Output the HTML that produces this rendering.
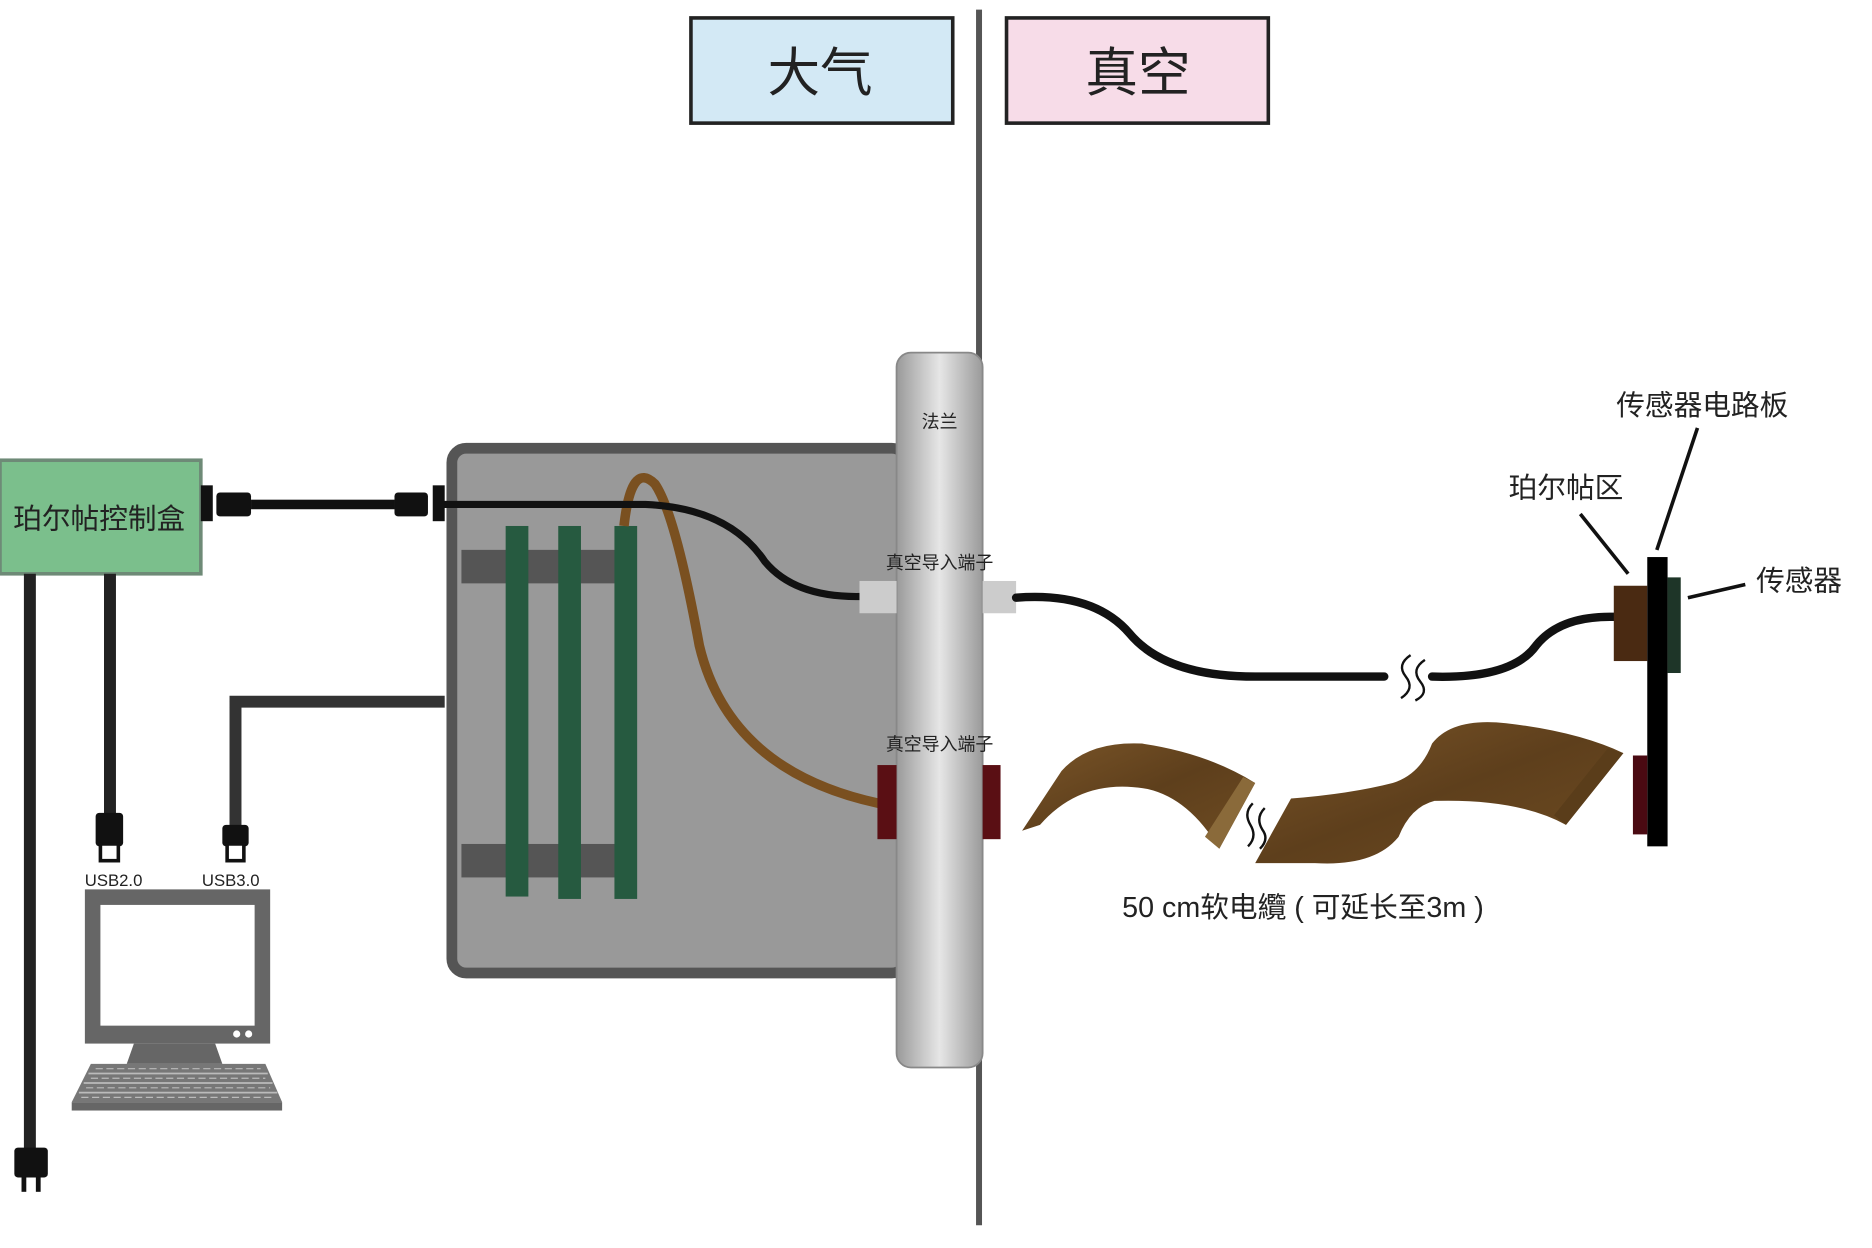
<!DOCTYPE html>
<html><head><meta charset="utf-8"><style>
html,body{margin:0;padding:0;background:#fff}
svg{display:block}
text{font-family:"Liberation Sans","Noto Sans CJK SC",sans-serif}
</style></head><body>
<svg width="1872" height="1248" viewBox="0 0 1566 1044" preserveAspectRatio="none" xmlns="http://www.w3.org/2000/svg">
<defs>
<linearGradient id="fl" x1="0" x2="1" y1="0" y2="0">
<stop offset="0" stop-color="#9a9a9a"/><stop offset="0.5" stop-color="#e6e6e6"/><stop offset="1" stop-color="#9a9a9a"/></linearGradient>
<linearGradient id="rb" x1="0" x2="1" y1="0" y2="1">
<stop offset="0" stop-color="#7a5528"/><stop offset="0.5" stop-color="#5e3f1c"/><stop offset="1" stop-color="#6e4c22"/></linearGradient>
</defs>
<rect width="1566" height="1044" fill="#fff"/>
<line x1="819" y1="8" x2="819" y2="1025" stroke="#555" stroke-width="5"/>
<rect x="578" y="15" width="219" height="88" fill="#d3e9f5" stroke="#222" stroke-width="3"/>
<text x="686" y="76" font-size="44" text-anchor="middle" fill="#222">大气</text>
<rect x="842" y="15" width="219" height="88" fill="#f7dce8" stroke="#222" stroke-width="3"/>
<text x="952" y="76" font-size="44" text-anchor="middle" fill="#222">真空</text>
<rect x="378" y="375" width="380" height="439" rx="12" fill="#999" stroke="#555" stroke-width="9"/>
<rect x="386" y="460" width="144" height="28" fill="#555"/>
<rect x="386" y="706" width="144" height="28" fill="#555"/>
<rect x="423" y="440" width="19" height="310" fill="#265a40"/>
<rect x="467" y="440" width="19" height="312" fill="#265a40"/>
<rect x="514" y="440" width="19" height="312" fill="#265a40"/>
<path d="M522,440 Q528,385 548,405 Q565,430 585,540 Q610,645 735,672" fill="none" stroke="#7a5020" stroke-width="8"/>
<path d="M370,422 L540,422 Q610,425 640,470 Q665,500 720,499" fill="none" stroke="#111" stroke-width="6"/>
<rect x="750" y="295" width="72" height="598" rx="12" fill="url(#fl)" stroke="#888" stroke-width="1.5"/>
<text x="786" y="358" font-size="15" text-anchor="middle" fill="#222">法兰</text>
<rect x="719" y="486" width="31" height="27" fill="#ccc"/>
<rect x="822" y="486" width="28" height="27" fill="#ccc"/>
<text x="786" y="476" font-size="15" text-anchor="middle" fill="#222">真空导入端子</text>
<text x="786" y="628" font-size="15" text-anchor="middle" fill="#222">真空导入端子</text>
<rect x="734" y="640" width="16" height="62" fill="#5a0f14"/>
<rect x="822" y="640" width="15" height="62" fill="#5a0f14"/>
<path d="M850,500 Q915,495 945,530 Q975,566 1050,566 L1158,566" fill="none" stroke="#111" stroke-width="7" stroke-linecap="round"/>
<path d="M1198,566 Q1265,568 1285,540 Q1305,515 1350,516" fill="none" stroke="#111" stroke-width="7" stroke-linecap="round"/>
<path d="M1180,548 Q1168,556 1176,566 Q1184,576 1172,584 M1192,552 Q1180,560 1188,570 Q1196,580 1184,586" fill="none" stroke="#111" stroke-width="2"/>
<path d="M855,695 L888,645 Q910,620 955,622 Q1010,630 1050,655 L1020,710 Q995,668 960,660 Q905,650 870,690 Z" fill="url(#rb)"/>
<path d="M1050,655 L1020,710 L1008,700 L1040,650 Z" fill="#8a6a3a"/>
<path d="M1050,722 L1080,668 Q1130,664 1165,655 Q1188,648 1198,622 Q1215,600 1260,605 Q1320,612 1358,630 L1310,690 Q1270,668 1200,670 Q1180,675 1170,700 Q1150,725 1100,722 Z" fill="url(#rb)"/>
<path d="M1358,630 L1310,690 L1300,682 L1345,626 Z" fill="#5a3d1a"/>
<path d="M1048,672 Q1040,680 1046,690 Q1052,700 1044,708 M1058,676 Q1050,684 1056,694 Q1062,702 1054,710" fill="none" stroke="#111" stroke-width="2"/>
<text x="1090" y="767" font-size="24" text-anchor="middle" fill="#222">50 cm软电纜 ( 可延长至3m )</text>
<rect x="1350" y="490" width="28" height="63" fill="#4a2a12"/>
<rect x="1378" y="466" width="17" height="242" fill="#000"/>
<rect x="1395" y="483" width="11" height="80" fill="#1e3528"/>
<rect x="1366" y="632" width="12" height="66" fill="#4a0a12"/>
<text x="1424" y="347" font-size="24" text-anchor="middle" fill="#222">传感器电路板</text>
<line x1="1420" y1="358" x2="1386" y2="460" stroke="#111" stroke-width="3"/>
<text x="1310" y="416" font-size="24" text-anchor="middle" fill="#222">珀尔帖区</text>
<line x1="1322" y1="430" x2="1362" y2="480" stroke="#111" stroke-width="3"/>
<text x="1505" y="494" font-size="24" text-anchor="middle" fill="#222">传感器</text>
<line x1="1412" y1="500" x2="1460" y2="489" stroke="#111" stroke-width="3"/>
<rect x="0" y="385" width="168" height="95" fill="#7bbf8c" stroke="#6e8a77" stroke-width="3"/>
<text x="83" y="442" font-size="24" text-anchor="middle" fill="#222">珀尔帖控制盒</text>
<rect x="168" y="406" width="10" height="30" fill="#111"/>
<rect x="181" y="412" width="29" height="20" rx="3" fill="#111"/>
<rect x="210" y="418" width="120" height="8" fill="#111"/>
<rect x="330" y="412" width="28" height="20" rx="3" fill="#111"/>
<rect x="362" y="406" width="10" height="30" fill="#111"/>
<line x1="25" y1="480" x2="25" y2="962" stroke="#222" stroke-width="10"/>
<rect x="12" y="960" width="28" height="25" rx="3" fill="#111"/>
<rect x="18" y="985" width="4" height="12" fill="#111"/>
<rect x="30" y="985" width="4" height="12" fill="#111"/>
<line x1="92" y1="480" x2="92" y2="682" stroke="#222" stroke-width="10"/>
<rect x="80" y="680" width="23" height="28" rx="3" fill="#111"/>
<rect x="84" y="706" width="15" height="14" fill="#fff" stroke="#111" stroke-width="3"/>
<text x="95" y="741" font-size="14" text-anchor="middle" fill="#222">USB2.0</text>
<path d="M372,587 L197,587 L197,692" fill="none" stroke="#333" stroke-width="10"/>
<rect x="186" y="690" width="22" height="18" rx="3" fill="#111"/>
<rect x="190" y="706" width="14" height="14" fill="#fff" stroke="#111" stroke-width="3"/>
<text x="193" y="741" font-size="14" text-anchor="middle" fill="#222">USB3.0</text>
<rect x="71" y="744" width="155" height="129" fill="#666"/>
<rect x="84" y="757" width="129" height="101" fill="#fff"/>
<circle cx="198" cy="865" r="3" fill="#fff"/><circle cx="208" cy="865" r="3" fill="#fff"/>
<polygon points="112,873 180,873 186,890 106,890" fill="#666"/>
<polygon points="76,890 222,890 236,922 60,922" fill="#777"/>
<rect x="60" y="922" width="176" height="7" fill="#666"/>
<g stroke="#bbb" stroke-width="1.5">
<line x1="74" y1="898" x2="224" y2="898"/><line x1="70" y1="906" x2="228" y2="906"/><line x1="66" y1="914" x2="232" y2="914"/>
</g>
<g stroke="#bbb" stroke-width="1" stroke-dasharray="6,3">
<line x1="80" y1="894" x2="218" y2="894"/><line x1="76" y1="902" x2="222" y2="902"/><line x1="72" y1="910" x2="226" y2="910"/><line x1="68" y1="918" x2="230" y2="918"/>
</g>
</svg>
</body></html>
